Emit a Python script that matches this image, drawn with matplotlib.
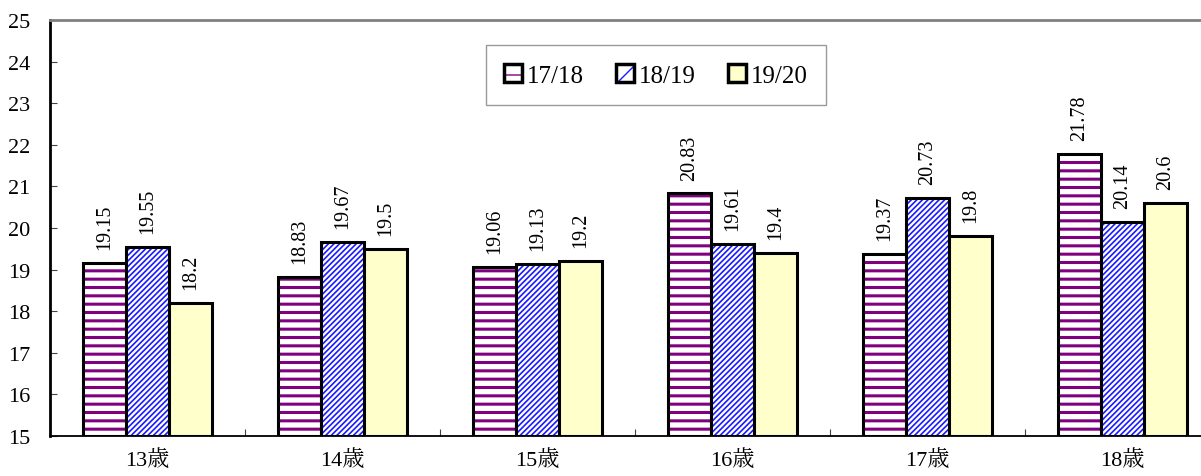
import numpy as np
import matplotlib.pyplot as plt
from matplotlib.colors import to_rgba

plt.rcParams['font.family'] = ['Liberation Serif', 'Noto Serif CJK JP', 'Noto Sans CJK JP']

# data
ages = ['13歳', '14歳', '15歳', '16歳', '17歳', '18歳']
seasons = ['17/18', '18/19', '19/20']
v1718 = [19.15, 18.83, 19.06, 20.83, 19.37, 21.78]
v1819 = [19.55, 19.67, 19.13, 19.61, 20.73, 20.14]
v1920 = [18.2, 19.5, 19.2, 19.4, 19.8, 20.6]

series = [v1718, v1819, v1920]
faces = ['white', 'white', '#ffffcc']
hatch_cols = ['#800080', '#1a1aff', None]
hatches = ['--', '//////', None]
hatch_lw = [2.2, 1.2, 1.0]

fig = plt.figure(figsize=(12.01, 4.77), dpi=100)
ax = fig.add_axes([50 / 1201, 40 / 477, 1170 / 1201, 416 / 477])

x = np.arange(len(ages))
w = 0.22
base = 15
for i, vals in enumerate(series):
    pos = x + (i - 1) * w
    h = np.array(vals) - base
    plt.rcParams['hatch.linewidth'] = hatch_lw[i]
    bars = ax.bar(pos, h, w, bottom=base, color=faces[i], hatch=hatches[i],
                  edgecolor='black', linewidth=2.2, zorder=2, label=seasons[i])
    if hatch_cols[i]:
        for b in bars:
            b._hatch_color = to_rgba(hatch_cols[i])
    for px, v in zip(pos, vals):
        ax.annotate(f'{v:g}', (px, v), xytext=(0, 10), textcoords='offset points',
                    rotation=90, ha='center', va='bottom', fontsize=14.5)

ax.set_xlim(-0.5, len(ages) - 0.5)
ax.set_ylim(15, 25)
ax.set_yticks(np.arange(15, 26, 1))
ax.set_xticks(x)
ax.set_xticklabels(ages, fontsize=16)
ax.set_xticks(np.arange(-0.5, len(ages), 1), minor=True)
ax.tick_params(axis='x', which='major', length=0, pad=9)
ax.tick_params(axis='x', which='minor', direction='in', length=5, width=0.8, color='#444444')
ax.tick_params(axis='y', direction='in', length=5, width=0.8, color='#444444',
               labelsize=16, pad=14)

ax.spines['left'].set_linewidth(2)
ax.spines['bottom'].set_linewidth(1.3)
ax.spines['top'].set_color('#808080')
ax.spines['top'].set_linewidth(2)
ax.spines['right'].set_visible(False)

leg = ax.legend(loc='center', bbox_to_anchor=(606 / 1170, 0.867),
                ncol=3, fontsize=18, frameon=True, fancybox=False,
                handlelength=0.7, handleheight=0.7, handletextpad=0.2,
                columnspacing=1.3, borderpad=0.75, borderaxespad=0)
leg.get_frame().set_edgecolor('#808080')
leg.get_frame().set_linewidth(1)
for p, hs, hc in zip(leg.get_patches(), ['-', '/', None], hatch_cols):
    p.set_hatch(hs)
    p.set_linewidth(2.5)
    if hc:
        p._hatch_color = to_rgba(hc)

fig.savefig('out.png', dpi=100)
